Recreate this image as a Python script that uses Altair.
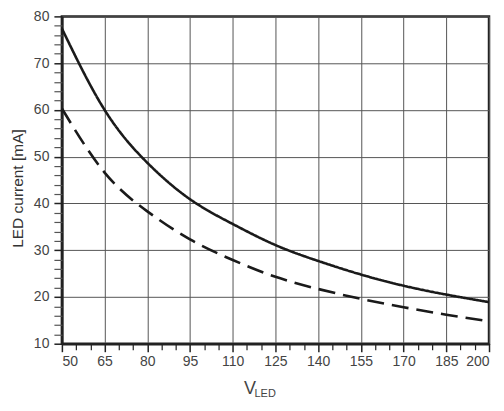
import altair as alt
import pandas as pd

v_led = [50, 65, 80, 95, 110, 125, 140, 155, 170, 185, 200]
i_solid = [77.4, 60.0, 48.7, 40.9, 35.6, 31.1, 27.7, 24.8, 22.4, 20.5, 18.9]
i_dashed = [60.3, 46.6, 38.3, 32.3, 27.9, 24.3, 21.7, 19.6, 17.8, 16.2, 14.8]

x_major = list(range(50, 201, 15))
x_minor = [v for v in range(50, 201, 5) if v not in x_major]
y_major = list(range(10, 81, 10))
y_minor = [v for v in range(10, 81, 2) if v not in y_major]

df = pd.DataFrame({
    "V": v_led * 2,
    "I": i_solid + i_dashed,
    "series": ["solid"] * len(v_led) + ["dashed"] * len(v_led),
})

FONT = "Liberation Sans"
xs = alt.Scale(domain=[50, 200], nice=False, zero=False)
ys = alt.Scale(domain=[10, 80], nice=False, zero=False)

lines = alt.Chart(df).mark_line(interpolate="natural", strokeWidth=2.6, color="#1a1a1a").encode(
    x=alt.X("V:Q", scale=xs, axis=alt.Axis(
        values=x_major, orient="bottom", title="V", grid=True, gridColor="#555", gridWidth=1,
        tickSize=8, tickWidth=1.5, tickColor="#222", domainColor="#222", domainWidth=2.5,
        labelFont=FONT, labelFontSize=14, labelColor="#444", labelPadding=3,
        titleFont=FONT, titleFontSize=18, titleFontWeight="normal", titleColor="#444",
        titleX=188, titleY=50, titleAlign="center", titleBaseline="alphabetic")),
    y=alt.Y("I:Q", scale=ys, axis=alt.Axis(
        values=y_major, orient="left", title="LED current [mA]", grid=True, gridColor="#555", gridWidth=1,
        tickSize=8, tickWidth=1.5, tickColor="#222", domainColor="#222", domainWidth=2.5,
        labelFont=FONT, labelFontSize=14, labelColor="#444", labelPadding=5,
        titleFont=FONT, titleFontSize=15.5, titleFontWeight="normal", titleColor="#333", titlePadding=8,
        titleY=172)),
    strokeDash=alt.StrokeDash("series:N", scale=alt.Scale(domain=["solid", "dashed"], range=[[1, 0], [17, 8]]), legend=None),
    detail="series:N",
)

minor = alt.Chart(df).mark_point(opacity=0).encode(
    x=alt.X("V:Q", scale=xs, axis=alt.Axis(
        values=x_minor, orient="bottom", title=None, grid=False, labels=False, domain=False,
        tickSize=6, tickWidth=1.2, tickColor="#222")),
    y=alt.Y("I:Q", scale=ys, axis=alt.Axis(
        values=y_minor, orient="left", title=None, grid=False, labels=False, domain=False,
        tickSize=8, tickWidth=1.2, tickColor="#555")),
)

sub = alt.Chart(pd.DataFrame({"t": ["LED"]})).mark_text(
    font=FONT, fontSize=11, color="#444", align="left", baseline="alphabetic"
).encode(text="t:N", x=alt.value(193), y=alt.value(381))

chart = alt.layer(lines, minor, sub).resolve_axis(x="independent", y="independent").properties(
    width=428, height=328,
    autosize=alt.AutoSizeParams(type="none"),
    padding={"left": 54, "top": 8, "right": 7, "bottom": 56},
).configure_view(stroke="#222", strokeWidth=2.5)

chart.save("out.html", embed_options={"renderer": "svg", "actions": False})
